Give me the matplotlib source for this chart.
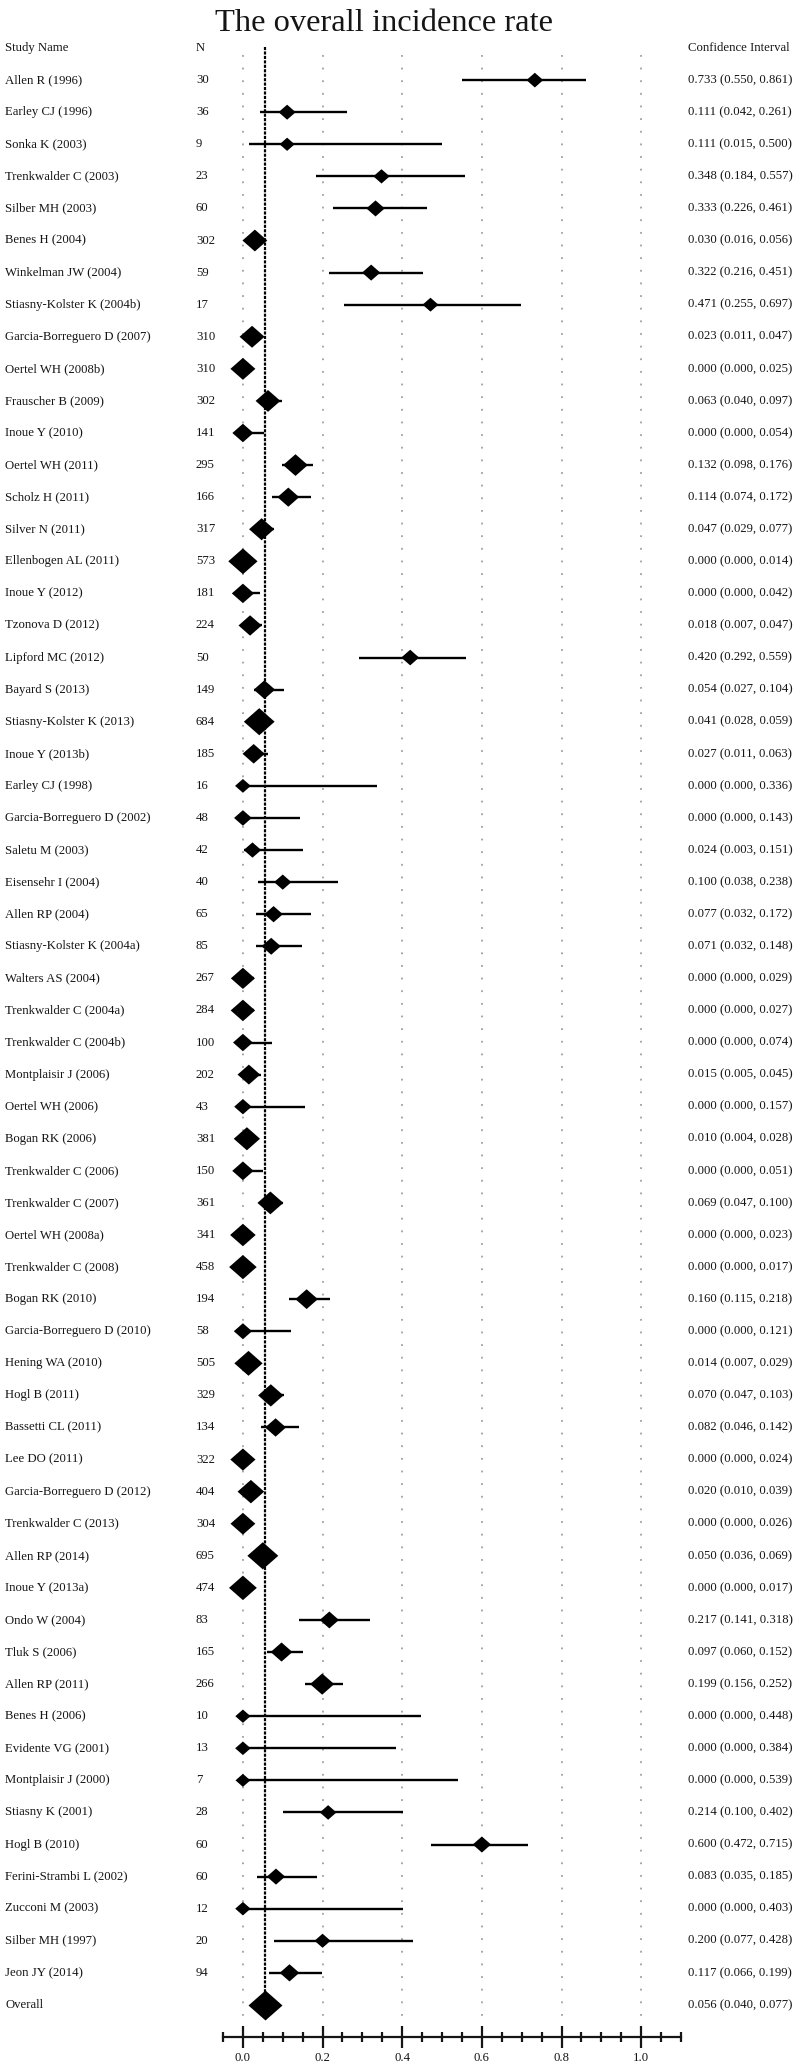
import matplotlib
matplotlib.use("Agg")
import matplotlib.pyplot as plt
import matplotlib.transforms as mtransforms
from matplotlib.ticker import MultipleLocator, FixedLocator
import numpy as np

plt.rcParams["font.family"] = ["Liberation Serif", "DejaVu Serif"]

studies = [
    "Allen R (1996)", "Earley CJ (1996)", "Sonka K (2003)", "Trenkwalder C (2003)",
    "Silber MH (2003)", "Benes H (2004)", "Winkelman JW (2004)", "Stiasny-Kolster K (2004b)",
    "Garcia-Borreguero D (2007)", "Oertel WH (2008b)", "Frauscher B (2009)", "Inoue Y (2010)",
    "Oertel WH (2011)", "Scholz H (2011)", "Silver N (2011)", "Ellenbogen AL (2011)",
    "Inoue Y (2012)", "Tzonova D (2012)", "Lipford MC (2012)", "Bayard S (2013)",
    "Stiasny-Kolster K (2013)", "Inoue Y (2013b)", "Earley CJ (1998)", "Garcia-Borreguero D (2002)",
    "Saletu M (2003)", "Eisensehr I (2004)", "Allen RP (2004)", "Stiasny-Kolster K (2004a)",
    "Walters AS (2004)", "Trenkwalder C (2004a)", "Trenkwalder C (2004b)", "Montplaisir J (2006)",
    "Oertel WH (2006)", "Bogan RK (2006)", "Trenkwalder C (2006)", "Trenkwalder C (2007)",
    "Oertel WH (2008a)", "Trenkwalder C (2008)", "Bogan RK (2010)", "Garcia-Borreguero D (2010)",
    "Hening WA (2010)", "Hogl B (2011)", "Bassetti CL (2011)", "Lee DO (2011)",
    "Garcia-Borreguero D (2012)", "Trenkwalder C (2013)", "Allen RP (2014)", "Inoue Y (2013a)",
    "Ondo W (2004)", "Tluk S (2006)", "Allen RP (2011)", "Benes H (2006)",
    "Evidente VG (2001)", "Montplaisir J (2000)", "Stiasny K (2001)", "Hogl B (2010)",
    "Ferini-Strambi L (2002)", "Zucconi M (2003)", "Silber MH (1997)", "Jeon JY (2014)",
]
n_sizes = [
    30, 36, 9, 23, 60, 302, 59, 17, 310, 310, 302, 141, 295, 166, 317, 573,
    181, 224, 50, 149, 684, 185, 16, 48, 42, 40, 65, 85, 267, 284, 100, 202,
    43, 381, 150, 361, 341, 458, 194, 58, 505, 329, 134, 322, 404, 304, 695, 474,
    83, 165, 266, 10, 13, 7, 28, 60, 60, 12, 20, 94,
]
rate = [
    0.733, 0.111, 0.111, 0.348, 0.333, 0.030, 0.322, 0.471, 0.023, 0.000, 0.063, 0.000,
    0.132, 0.114, 0.047, 0.000, 0.000, 0.018, 0.420, 0.054, 0.041, 0.027, 0.000, 0.000,
    0.024, 0.100, 0.077, 0.071, 0.000, 0.000, 0.000, 0.015, 0.000, 0.010, 0.000, 0.069,
    0.000, 0.000, 0.160, 0.000, 0.014, 0.070, 0.082, 0.000, 0.020, 0.000, 0.050, 0.000,
    0.217, 0.097, 0.199, 0.000, 0.000, 0.000, 0.214, 0.600, 0.083, 0.000, 0.200, 0.117,
]
lower = [
    0.550, 0.042, 0.015, 0.184, 0.226, 0.016, 0.216, 0.255, 0.011, 0.000, 0.040, 0.000,
    0.098, 0.074, 0.029, 0.000, 0.000, 0.007, 0.292, 0.027, 0.028, 0.011, 0.000, 0.000,
    0.003, 0.038, 0.032, 0.032, 0.000, 0.000, 0.000, 0.005, 0.000, 0.004, 0.000, 0.047,
    0.000, 0.000, 0.115, 0.000, 0.007, 0.047, 0.046, 0.000, 0.010, 0.000, 0.036, 0.000,
    0.141, 0.060, 0.156, 0.000, 0.000, 0.000, 0.100, 0.472, 0.035, 0.000, 0.077, 0.066,
]
upper = [
    0.861, 0.261, 0.500, 0.557, 0.461, 0.056, 0.451, 0.697, 0.047, 0.025, 0.097, 0.054,
    0.176, 0.172, 0.077, 0.014, 0.042, 0.047, 0.559, 0.104, 0.059, 0.063, 0.336, 0.143,
    0.151, 0.238, 0.172, 0.148, 0.029, 0.027, 0.074, 0.045, 0.157, 0.028, 0.051, 0.100,
    0.023, 0.017, 0.218, 0.121, 0.029, 0.103, 0.142, 0.024, 0.039, 0.026, 0.069, 0.017,
    0.318, 0.152, 0.252, 0.448, 0.384, 0.539, 0.402, 0.715, 0.185, 0.403, 0.428, 0.199,
]
overall_rate, overall_lower, overall_upper = 0.056, 0.040, 0.077
major_ticks = [0.0, 0.2, 0.4, 0.6, 0.8, 1.0]

W, H = 800, 2065
fig = plt.figure(figsize=(W / 100, H / 100), dpi=100)
ax = fig.add_axes([223 / W, (H - 2037) / H, 458 / W, 2005 / H])
n_rows = len(studies)
rows = np.arange(n_rows)
ax.set_xlim(-0.05, 1.1)
ax.set_ylim(n_rows + 1, -1.5)

ink = "#151515"
# dotted guides and dashed pooled estimate
ax.vlines(major_ticks, -0.78, n_rows + 0.65, colors="#a0a0a0",
          linestyles=(0, (1, 6)), lw=1.3, zorder=1)
ax.vlines(overall_rate, -1.03, n_rows, colors="black",
          linestyles=(0, (1.4, 0.6)), lw=1.6, zorder=2)

# confidence intervals
ax.hlines(rows, lower, upper, colors="black", lw=1.7, zorder=3)

# diamonds scaled by sample size
diamond = [(-1, 0), (0, 0.88), (1, 0), (0, -0.88), (-1, 0)]
widths_px = 13 + 0.68 * np.sqrt(np.array(n_sizes))
ms = widths_px * 0.72
ax.scatter(rate, rows, s=ms ** 2, marker=diamond, c="black", linewidths=0, zorder=4)
ax.scatter([overall_rate], [n_rows], s=(34 * 0.72) ** 2, marker=diamond,
           c="black", linewidths=0, zorder=4)

# axis styling
for side in ("top", "left", "right"):
    ax.spines[side].set_visible(False)
ax.spines["bottom"].set_linewidth(1.6)
ax.spines["bottom"].set_color(ink)
ax.set_yticks([])
ax.xaxis.set_major_locator(FixedLocator(major_ticks))
ax.xaxis.set_minor_locator(MultipleLocator(0.05))
ax.set_xticklabels([f"{t:.1f}" for t in major_ticks])
ax.tick_params(axis="x", which="major", direction="inout", length=15.8, width=1.6,
               color=ink, labelsize=9.2, labelcolor=ink, pad=3)
ax.tick_params(axis="x", which="minor", direction="inout", length=7.5, width=1.6, color=ink)

# text columns
trans = mtransforms.blended_transform_factory(fig.transFigure, ax.transData)
col_name, col_n, col_ci = 5 / W, 196 / W, 688 / W
kw = dict(transform=trans, fontsize=9.2, color=ink, va="center", clip_on=False)
ax.text(col_name, -1, "Study Name", **kw)
ax.text(col_n, -1, "N", **kw)
ax.text(col_ci, -1, "Confidence Interval", **kw)
for i, (name, n, r, lo, hi) in enumerate(zip(studies, n_sizes, rate, lower, upper)):
    ax.text(col_name, i, name, **kw)
    ax.text(col_n, i, str(n), **kw)
    ax.text(col_ci, i, f"{r:.3f} ({lo:.3f}, {hi:.3f})", **kw)
ax.text(col_name, n_rows, "Overall", **kw)
ax.text(col_ci, n_rows, f"{overall_rate:.3f} ({overall_lower:.3f}, {overall_upper:.3f})", **kw)

fig.text(384 / W, 1 - 31 / H, "The overall incidence rate", ha="center", va="baseline",
         fontsize=23.4, color=ink)

fig.savefig("out.png", dpi=100)
